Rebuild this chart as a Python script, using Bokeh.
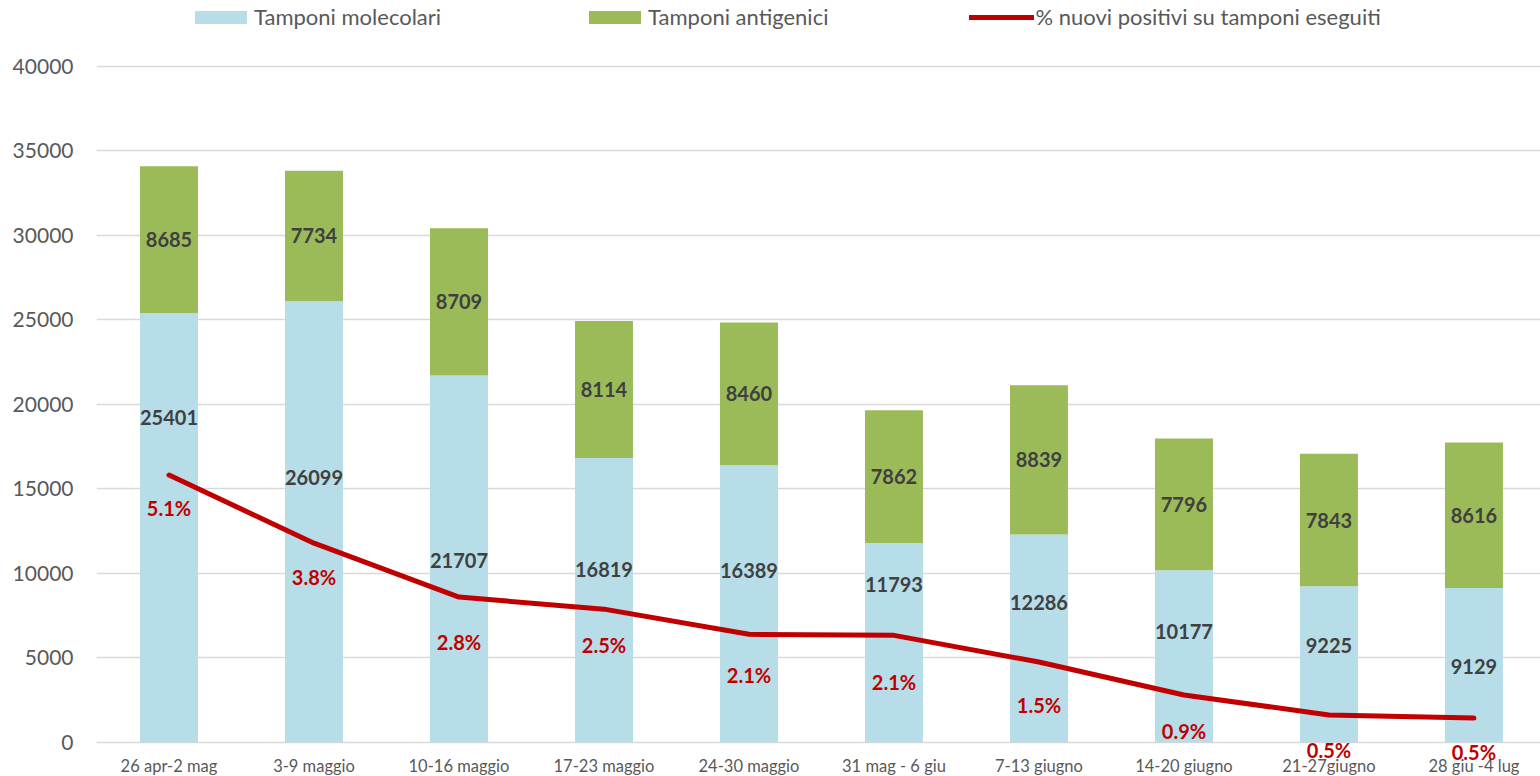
from bokeh.plotting import figure
from bokeh.models import (Range1d, FixedTicker, ColumnDataSource, LabelSet,
                          Legend, LegendItem)
from bokeh.core.properties import value
from bokeh.embed import file_html
from bokeh.resources import INLINE

# ---- data ----
categories = ["26 apr-2 mag", "3-9 maggio", "10-16 maggio", "17-23 maggio",
              "24-30 maggio", "31 mag - 6 giu", "7-13 giugno", "14-20 giugno",
              "21-27giugno", "28 giu -4 lug"]
molecolari = [25401, 26099, 21707, 16819, 16389, 11793, 12286, 10177, 9225, 9129]
antigenici = [8685, 7734, 8709, 8114, 8460, 7862, 8839, 7796, 7843, 8616]
pct_positivi = [5.10, 3.80, 2.77, 2.54, 2.06, 2.04, 1.53, 0.90, 0.52, 0.46]
pct_labels = ["5.1%", "3.8%", "2.8%", "2.5%", "2.1%", "2.1%", "1.5%", "0.9%", "0.5%", "0.5%"]
y_ticks = [0, 5000, 10000, 15000, 20000, 25000, 30000, 35000, 40000]

# label placement (primary-axis units), as placed in the original chart
mol_label_pos = [19230, 15680, 10770, 10240, 10180, 9350, 8250, 6570, 5740, 4500]
pct_label_pos = [13850, 9760, 5920, 5740, 3960, 3550, 2190, 650, -470, -590]

x = list(range(len(categories)))
totals = [m + a for m, a in zip(molecolari, antigenici)]
src = ColumnDataSource(dict(
    x=x, mol=molecolari, ant=antigenici, tot=totals,
    ant_mid=[m + a / 2 for m, a in zip(molecolari, antigenici)],
    mol_txt=[str(v) for v in molecolari], ant_txt=[str(v) for v in antigenici],
    mol_pos=mol_label_pos, pct=pct_positivi, pct_txt=pct_labels, pct_pos=pct_label_pos,
))

FONT = "Lato"
GREY = "#595959"
DARK = "#404040"
RED = "#c00000"

# frame extends slightly beyond 0..40000 so that legend and low labels are visible
Y0, Y1 = -1500, 43905
p = figure(frame_width=1444, frame_height=767, output_backend="svg",
           toolbar_location=None, x_range=Range1d(-0.5, 9.459),
           y_range=Range1d(Y0, Y1), min_border_left=96, min_border_top=0,
           min_border_right=0, min_border_bottom=0)
p.extra_y_ranges = {"pct": Range1d(Y0 / 3100.0, Y1 / 3100.0)}
p.outline_line_color = None
p.background_fill_color = "white"

mol_r = p.vbar(x="x", bottom=0, top="mol", width=0.4, source=src,
               fill_color="#b7dde8", line_color=None)
ant_r = p.vbar(x="x", bottom="mol", top="tot", width=0.4, source=src,
               fill_color="#9bbb59", line_color=None)
line_r = p.line(x="x", y="pct", source=src, y_range_name="pct",
                line_color=RED, line_width=5, line_join="round", line_cap="round")

for ycol, tcol, col in [("mol_pos", "mol_txt", DARK), ("ant_mid", "ant_txt", DARK),
                        ("pct_pos", "pct_txt", RED)]:
    p.add_layout(LabelSet(x="x", y=ycol, text=tcol, source=src,
                          text_font=value(FONT), text_font_size=value("20px"),
                          text_font_style=value("bold"), text_color=value(col),
                          text_align=value("center"), text_baseline=value("middle")))

# axes
p.xaxis.ticker = FixedTicker(ticks=x)
p.xaxis.major_label_overrides = {i: c for i, c in enumerate(categories)}
p.xaxis.major_label_text_font = FONT
p.xaxis.major_label_text_font_size = "16.5px"
p.xaxis.major_label_text_color = GREY
p.xaxis.axis_line_color = None
p.xaxis.major_tick_line_color = None
p.xaxis.minor_tick_line_color = None
p.xaxis.major_label_standoff = -18

p.yaxis.ticker = FixedTicker(ticks=y_ticks)
p.yaxis.major_label_text_font = FONT
p.yaxis.major_label_text_font_size = "21px"
p.yaxis.major_label_text_color = GREY
p.yaxis.axis_line_color = None
p.yaxis.major_tick_line_color = None
p.yaxis.minor_tick_line_color = None
p.yaxis.major_label_standoff = 17

p.xgrid.grid_line_color = None
p.ygrid.grid_line_color = "#d9d9d9"
p.ygrid.grid_line_width = 1.5

legend = Legend(items=[
    LegendItem(label="Tamponi molecolari", renderers=[mol_r]),
    LegendItem(label="Tamponi antigenici", renderers=[ant_r]),
    LegendItem(label="% nuovi positivi su tamponi eseguiti", renderers=[line_r]),
], orientation="horizontal", location=(92, 737), spacing=141,
    glyph_width=65, glyph_height=16, label_standoff=1, padding=0, margin=0,
    label_text_font=FONT, label_text_font_size="22px", label_text_color=GREY,
    background_fill_alpha=0, border_line_color=None)
p.add_layout(legend, "center")

open("out.html", "w").write(file_html(p, INLINE))
